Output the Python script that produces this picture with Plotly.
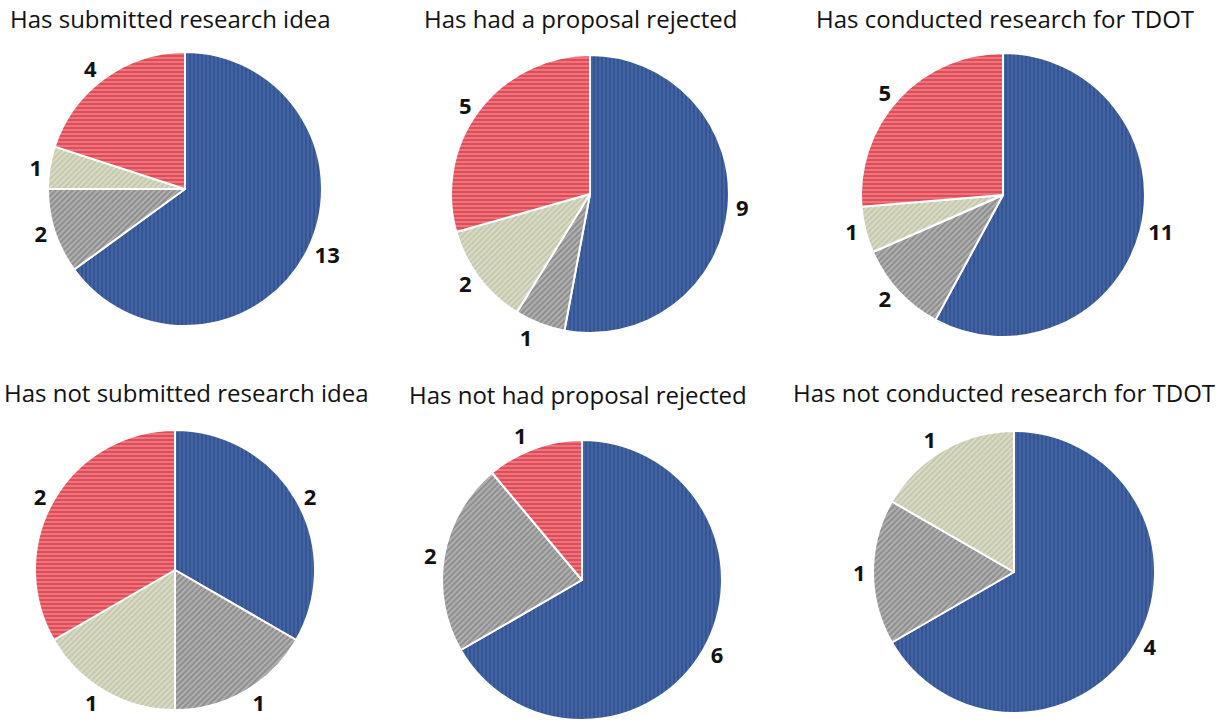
import plotly.graph_objects as go

# Survey responses split by group, one pie per group
titles = [
    "Has submitted research idea",
    "Has had a proposal rejected",
    "Has conducted research for TDOT",
    "Has not submitted research idea",
    "Has not had proposal rejected",
    "Has not conducted research for TDOT",
]
categories = ["Blue", "Gray", "Beige", "Red"]
blue_vals = [13, 9, 11, 2, 6, 4]
gray_vals = [2, 1, 2, 1, 2, 1]
beige_vals = [1, 2, 1, 1, 0, 1]
red_vals = [4, 5, 5, 2, 1, 0]

W, H = 1231, 726
# pie centres and radii in pixels
centers = [(185, 189, 137), (590, 194, 139), (1003, 195, 142),
           (175, 570, 140), (582, 580, 140), (1014, 572, 141)]
title_pos = [(170, 18), (580, 18), (1005, 18),
             (186, 392), (578, 394), (1004, 392)]

fill = ["#4264a0", "#8e8e8e", "#c6c8ac", "#e24c57"]
stripe = ["#1c3682", "#dcdcdc", "#f3f3ea", "#f8c8cc"]
shapes = ["|", "/", "/", "-"]
sizes = [4, 4, 4, 4]
solid = [0.35, 0.45, 0.45, 0.35]

fig = go.Figure()
for i in range(6):
    cx, cy, r = centers[i]
    vals = [blue_vals[i], gray_vals[i], beige_vals[i], red_vals[i]]
    fig.add_trace(go.Pie(
        labels=categories,
        values=vals,
        text=[str(v) if v else "" for v in vals],
        textinfo="text",
        sort=False,
        direction="clockwise",
        rotation=0,
        textposition="outside",
        textfont=dict(family="Open Sans", size=22, color="#111111", weight="bold"),
        marker=dict(
            colors=fill,
            line=dict(color="white", width=2),
            pattern=dict(shape=shapes, fgcolor=stripe, bgcolor=fill,
                         fillmode="overlay", size=sizes, solidity=solid),
        ),
        domain=dict(x=[(cx - r) / W, (cx + r) / W],
                    y=[1 - (cy + r) / H, 1 - (cy - r) / H]),
        showlegend=False,
        hoverinfo="label+value",
    ))
    tx, ty = title_pos[i]
    fig.add_annotation(text=titles[i], x=tx / W, y=1 - ty / H, xref="paper", yref="paper",
                       showarrow=False, xanchor="center", yanchor="middle",
                       font=dict(family="Open Sans", size=24, color="#111111"))

fig.update_layout(width=W, height=H, margin=dict(l=0, r=0, t=0, b=0),
                  paper_bgcolor="white", plot_bgcolor="white")
fig.write_html("out.html")
